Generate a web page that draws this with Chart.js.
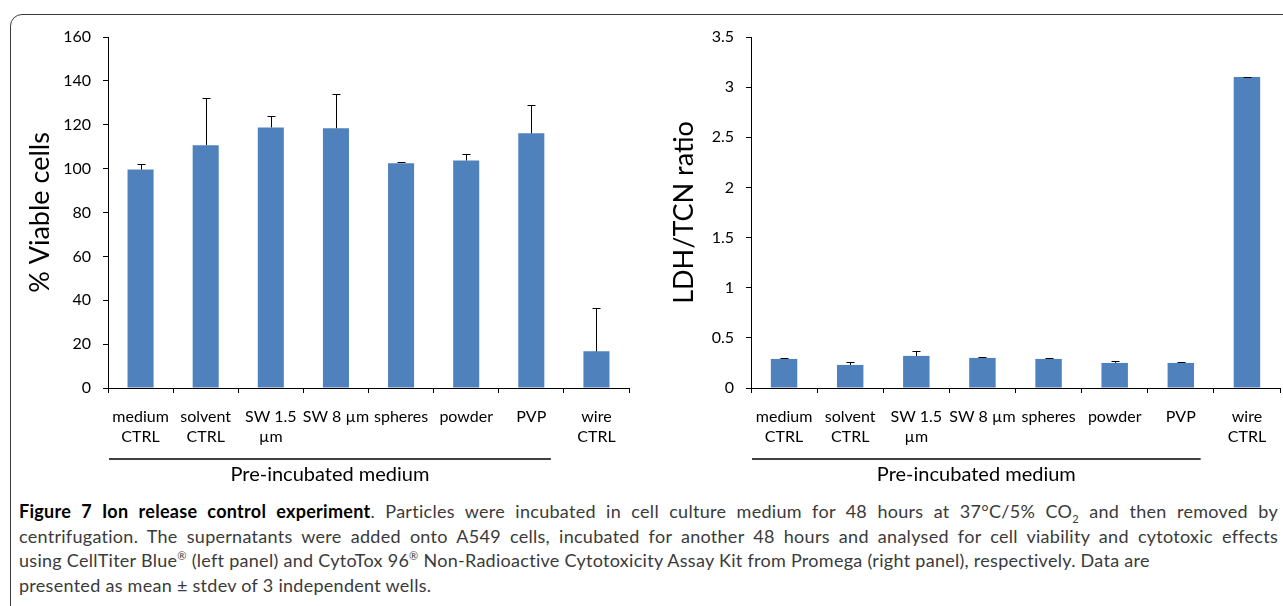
<!DOCTYPE html>
<html>
<head>
<meta charset="utf-8">
<script src="https://cdn.jsdelivr.net/npm/chart.js@4"></script>
<style>
  body{margin:0;width:1283px;height:606px;overflow:hidden;background:#fff;position:relative;font-family:Lato,"Open Sans",sans-serif;}
  #frame{position:absolute;left:10px;top:14px;width:1400px;height:700px;border:1.5px solid #3a3a3a;border-radius:12px;box-sizing:border-box;}
  canvas{position:absolute;top:0;}
  #left{left:0;}
  #right{left:640px;}
  #caption{position:absolute;left:19px;top:499px;font-size:18px;line-height:24.5px;color:#3a3a3a;white-space:nowrap;}
  #caption b{color:#000;}
  #caption span{display:inline-block;}
  sub,sup{font-size:11px;line-height:0;}
</style>
</head>
<body>
<div id="frame"></div>
<canvas id="left" width="640" height="490"></canvas>
<canvas id="right" width="643" height="490"></canvas>
<div id="caption">
<span id="cap1"><b>Figure 7 Ion release control experiment</b>. Particles were incubated in cell culture medium for 48 hours at 37°C/5% CO<sub>2</sub> and then removed by</span><br>
<span id="cap2">centrifugation. The supernatants were added onto A549 cells, incubated for another 48 hours and analysed for cell viability and cytotoxic effects</span><br>
<span id="cap3">using CellTiter Blue<sup>®</sup> (left panel) and CytoTox 96<sup>®</sup> Non-Radioactive Cytotoxicity Assay Kit from Promega (right panel), respectively. Data are</span><br>
<span>presented as mean ± stdev of 3 independent wells.</span>
</div>
<script>
// DATA
const categories = [["medium","CTRL"],["solvent","CTRL"],["SW 1.5","µm"],["SW 8 µm"],["spheres"],["powder"],["PVP"],["wire","CTRL"]];
const viable = [99.6, 110.7, 118.8, 118.4, 102.5, 103.7, 116.1, 16.7];
const viableErr = [2.6, 21.3, 5.2, 15.7, 0.3, 3.0, 12.7, 19.8];
const ldhRatio = [0.29, 0.23, 0.32, 0.30, 0.29, 0.25, 0.25, 3.10];
const ldhErr = [0.01, 0.03, 0.05, 0.005, 0.005, 0.02, 0.01, 0.005];
const groupLabel = "Pre-incubated medium";
const groupCount = 7; // first 7 categories are pre-incubated

const FONT = "Lato, 'Open Sans', sans-serif";
const BLUE = "#4F81BD";

// caption: letter spacing from line 3, then justify lines 1-2 with word spacing
const capW = 1259;
const c3 = document.getElementById("cap3");
const ls = (1131 - c3.getBoundingClientRect().width) / c3.textContent.length;
document.getElementById("caption").style.letterSpacing = ls.toFixed(3) + "px";
["cap1", "cap2"].forEach(id => {
  const c = document.getElementById(id);
  const gaps = c.textContent.trim().split(/\s+/).length - 1;
  c.style.wordSpacing = ((capW - c.getBoundingClientRect().width) / gaps).toFixed(3) + "px";
});

// error bars (upper only) + group line under categories
const extras = {
  id: "extras",
  afterDatasetsDraw(chart, args, opts) {
    const ctx = chart.ctx, y = chart.scales.y;
    const meta = chart.getDatasetMeta(0);
    ctx.save();
    ctx.strokeStyle = "#000";
    ctx.lineWidth = 1;
    meta.data.forEach((bar, i) => {
      const v = chart.data.datasets[0].data[i];
      const top = y.getPixelForValue(v + opts.err[i]);
      const x = Math.round(bar.x) + 0.5;
      ctx.beginPath();
      ctx.moveTo(x, bar.y);
      ctx.lineTo(x, Math.round(top) + 0.5);
      ctx.moveTo(x - 4, Math.round(top) + 0.5);
      ctx.lineTo(x + 4, Math.round(top) + 0.5);
      ctx.stroke();
    });
    ctx.restore();
  },
  afterDraw(chart) {
    const ctx = chart.ctx, xs = chart.scales.x, area = chart.chartArea;
    const cat = (area.right - area.left) / categories.length;
    const x0 = area.left + 1;
    const x1 = xs.getPixelForValue(groupCount - 1) + cat * 0.3;
    const ly = area.bottom + 71;
    ctx.save();
    ctx.strokeStyle = "#000";
    ctx.lineWidth = 1.5;
    ctx.beginPath();
    ctx.moveTo(x0, ly);
    ctx.lineTo(x1, ly);
    ctx.stroke();
    ctx.fillStyle = "#000";
    ctx.font = "20px " + FONT;
    ctx.textAlign = "center";
    ctx.textBaseline = "middle";
    ctx.fillText(groupLabel, (x0 + x1) / 2, ly + 16);
    ctx.restore();
  }
};

function makeChart(id, values, errs, yMax, step, yTitle, yWidth, padRight, titlePad) {
  return new Chart(document.getElementById(id), {
    type: "bar",
    data: {
      labels: categories,
      datasets: [{data: values, backgroundColor: BLUE, borderWidth: 0,
                  barPercentage: 0.4, categoryPercentage: 1}]
    },
    options: {
      responsive: false,
      animation: false,
      layout: {padding: {left: 0, right: padRight, top: 37, bottom: 42}},
      plugins: {legend: {display: false}, tooltip: {enabled: false}, extras: {err: errs}},
      scales: {
        x: {
          grid: {display: true, drawOnChartArea: false, offset: true, tickLength: 5, color: "#000"},
          border: {color: "#000", width: 1},
          ticks: {color: "#000", font: {family: FONT, size: 16, lineHeight: 1.25}, padding: 14, maxRotation: 0, autoSkip: false},
          afterFit: s => { s.height = 60; }
        },
        y: {
          min: 0, max: yMax,
          grid: {display: true, drawOnChartArea: false, tickLength: 5, color: "#000"},
          border: {color: "#000", width: 1},
          ticks: {stepSize: step, color: "#000", font: {family: FONT, size: 16}, padding: 12, autoSkip: false,
                  callback: v => String(v)},
          title: {display: true, text: yTitle, color: "#000", font: {family: FONT, size: 27}, padding: {top: titlePad, bottom: 0}},
          afterFit: s => { s.width = yWidth; }
        }
      }
    },
    plugins: [extras]
  });
}

makeChart("left", viable, viableErr, 160, 20, "% Viable cells", 108, 11, 24);
makeChart("right", ldhRatio, ldhErr, 3.5, 0.5, "LDH/TCN ratio", 111, 3, 28);
</script>
</body>
</html>
